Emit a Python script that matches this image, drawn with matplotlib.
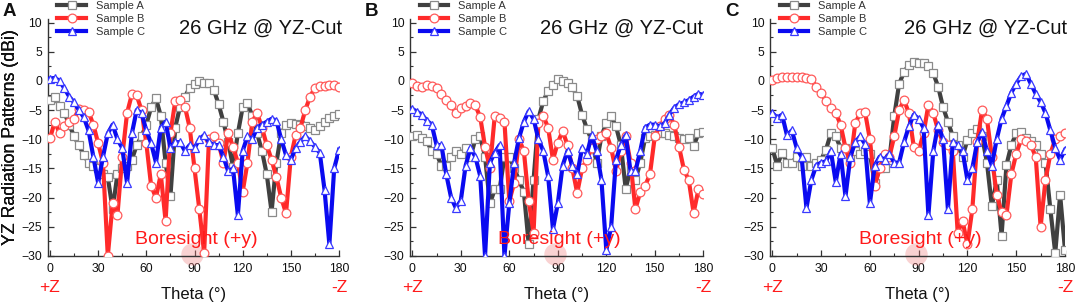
import numpy as np
import matplotlib
matplotlib.use("Agg")
import matplotlib.pyplot as plt
from matplotlib.ticker import MultipleLocator

plt.rcParams['font.family'] = ['Liberation Sans', 'DejaVu Sans']

theta = list(range(0, 181, 3))
series_names = ["Sample A", "Sample B", "Sample C"]
panel_letters = ["A", "B", "C"]

# Panel A
pA_sampleA = [-3.3, -2.8, -4.3, -5.5, -7.5, -9.5, -11, -12.7, -14, -14.5,
              -15, -16, -16.5, -22, -16, -15, -14.5, -13.5, -11, -9.5,
              -7.5, -4.5, -3, -6, -14, -19.8, -8, -4.4, -2.7, -1.2,
              -0.5, -0.1, -0.4, -0.4, -1.5, -4, -7, -10.5, -14.7, -9,
              -4.5, -3.8, -6, -9, -12, -16, -22.4, -14, -9, -7.6,
              -7.3, -7.4, -7.6, -7.8, -8.1, -8.5, -7.8, -7, -6.4, -6,
              -5.7]
pA_sampleB = [-9.8, -7, -9, -7.8, -7, -6.5, -4.8, -5, -5.3, -7.5,
              -10.7, -14, -30, -21, -23, -13, -5.5, -2.3, -2.5, -5,
              -10.7, -18, -20, -16, -24, -9, -3.5, -3.3, -4.4, -8,
              -15, -22, -29.5, -10, -9.5, -10.7, -14, -9, -11.3, -14,
              -19, -14, -7, -5.5, -8, -11, -13.5, -16.5, -20, -22.7,
              -13, -9.3, -8, -5, -2.7, -1.2, -0.9, -0.9, -0.7, -0.7,
              -1.1]
pA_sampleC = [0.4, 0.5, 0, -1.3, -2.7, -3.7, -5, -6.2, -8.5, -13,
              -17.5, -13, -9, -7.5, -10, -11.5, -17.5, -9, -5, -5.5,
              -8.5, -10.7, -14, -8, -7, -11.5, -10.5, -10.5, -12, -11,
              -11.5, -10, -9.3, -10.5, -11, -11, -13, -15.5, -15, -23,
              -12, -9.5, -10, -8, -7.5, -7, -6.5, -6.8, -10, -12.7,
              -13.5, -11.5, -10.4, -9.5, -10.3, -11.3, -12.3, -18.7, -28, -15,
              -11.8]

# Panel B
pB_sampleA = [-9.5, -9.3, -9.8, -10.3, -12, -12.5, -14.5, -14.5, -13, -12,
              -12.5, -11.5, -13, -10, -9.5, -13, -21, -18.6, -18.6, -13,
              -13, -15, -17, -19, -28, -17, -6.5, -3.5, -1.7, -0.7,
              0.3, 0, -0.3, -1.1, -2.6, -5.8, -8.2, -10.2, -14, -9.5,
              -7.2, -6.1, -7.8, -11, -18.5, -15, -17, -14, -9.8, -9.5,
              -9.3, -9, -9, -9.3, -9.5, -9.8, -10, -9.8, -11.2, -9,
              -8.8]
pB_sampleB = [-0.4, -0.9, -1, -0.7, -0.8, -1.2, -2.3, -3.3, -4.2, -5.5,
              -4.6, -4.3, -3.8, -4.2, -6.2, -11.3, -15, -6, -6.4, -7,
              -20.6, -17.5, -10, -12, -20.6, -26, -7.2, -6, -8, -13.5,
              -10.6, -8.6, -11, -15, -19.2, -15, -13.5, -11.5, -10, -9.5,
              -9, -11.5, -15.5, -12, -9.5, -14, -22, -19, -18, -16,
              -9.5, -7.8, -6.6, -5.8, -7.5, -11.3, -15.2, -17, -22.6, -18.6,
              -19.4]
pB_sampleC = [-4.8, -5.3, -5.8, -6.8, -7.5, -11, -11, -16, -20, -21.8,
              -20.5, -14.5, -11.5, -13, -16.3, -30, -14, -12.3, -11, -30,
              -21, -14, -9.8, -7, -5.2, -6.5, -10, -12, -16.3, -25.4,
              -21, -14.5, -12, -14.5, -16, -11.5, -12.5, -9.3, -12, -17,
              -29, -25, -13.5, -11, -9.3, -15.5, -15.5, -12, -8, -7.5,
              -7.5, -7.8, -7.3, -5.8, -4.6, -4, -3.7, -3.3, -2.7, -2.2,
              -2.4]

# Panel C
pC_sampleA = [-11.5, -14.5, -12.3, -14, -14, -13, -14.5, -13, -14.5, -14,
              -13.5, -11.8, -9, -9.5, -11.5, -11.5, -13, -12, -12.5, -12,
              -12.5, -17.5, -15, -15, -13.5, -6, -0.5, 1.5, 2.8, 3.3,
              3.1, 3, 2.5, 1.3, -1, -4.5, -7, -9.5, -11, -13,
              -10.1, -9, -8.3, -9.5, -14, -21.5, -17, -26.5, -14.4, -11,
              -9, -8.8, -9.8, -10.3, -11, -12.5, -14, -22, -29.5, -19.5,
              -29]
pC_sampleB = [0.2, 0.5, 0.6, 0.6, 0.6, 0.7, 0.6, 0.5, 0.3, -1,
              -2, -3.5, -4.7, -5.5, -7.5, -11.5, -14, -7.3, -5.5, -5.3,
              -10, -18, -15, -12.5, -13, -9.5, -5, -3.3, -5.5, -11.3,
              -12, -9, -4.1, -5.5, -8.5, -10.5, -11, -12, -26, -24,
              -28, -22, -10.5, -5, -6.5, -13, -19.5, -22.5, -23, -16,
              -12.5, -10, -10.3, -11, -13, -25, -17, -12.5, -10, -9.5,
              -9]
pC_sampleC = [-5.5, -6.3, -5.8, -9.3, -8.5, -11.5, -13, -21.8, -17, -14.5,
              -14, -13.8, -12, -17.3, -12.5, -19.8, -13, -10.5, -9.5, -10.8,
              -21, -14.5, -13, -13.5, -12.5, -14, -14, -10.5, -7.8, -5.8,
              -6.5, -8, -23, -12, -7.5, -10, -22, -10.5, -11, -12,
              -17, -15, -10.5, -8.7, -12, -14.5, -10, -6.5, -4.3, -2,
              -0.5, 0.8, 1.2, -0.5, -2.2, -3.6, -5.5, -8.5, -11.5, -13.5,
              -11.8]

panels = [
    [pA_sampleA, pA_sampleB, pA_sampleC],
    [pB_sampleA, pB_sampleB, pB_sampleC],
    [pC_sampleA, pC_sampleB, pC_sampleC],
]

styles = [
    dict(color='#404040', marker='s', mec='#8a8a8a'),
    dict(color='#ff2a2a', marker='o', mec='#ff5a5a'),
    dict(color='#0a0af0', marker='^', mec='#3a3aff'),
]

W, H = 1079, 304
fig = plt.figure(figsize=(W / 100, H / 100), dpi=100)

# axes geometry in pixels: (left spine x, x of theta=180)
geom = [(47.7, 339.0), (410.0, 703.3), (770.0, 1065.0)]
zero_px = [50.0, 412.3, 772.3]
title_right = [342.0, 703.0, 1067.0]
top_px, bot_px = 19.0, 256.0

for i, (lpx, rpx) in enumerate(geom):
    ax = fig.add_axes([lpx / W, 1 - bot_px / H, (rpx - lpx) / W, (bot_px - top_px) / H])
    ppd = (rpx - zero_px[i]) / 180.0
    xmin = -(zero_px[i] - lpx) / ppd
    ax.set_xlim(xmin, 180)
    ax.set_ylim(-30, 10.6)
    handles = []
    for k, (vals, st) in enumerate(zip(panels[i], styles)):
        ln, = ax.plot(theta, vals, color=st['color'], lw=3.0, marker=st['marker'],
                      ms=6.3, mfc='white', mec=st['mec'], mew=0.9, zorder=3 + k,
                      solid_joinstyle='round')
        handles.append(ln)
    # boresight marker
    ax.scatter([88.5], [-29.7], s=260, color='#f08080', alpha=0.35, lw=0,
               clip_on=False, zorder=2)
    ax.text(91, -27.1, "Boresight (+y)", color='#ff1a1a', fontsize=14,
            ha='center', va='center', zorder=10)
    ax.text((title_right[i] - lpx) / (rpx - lpx), (bot_px - 28) / (bot_px - top_px),
            "26 GHz @ YZ-Cut", transform=ax.transAxes, fontsize=14.5,
            ha='right', va='center', color='#111111')
    for side in ['top', 'right']:
        ax.spines[side].set_visible(False)
    for side in ['left', 'bottom']:
        ax.spines[side].set_linewidth(1.0)
        ax.spines[side].set_color('#333333')
    ax.xaxis.set_major_locator(MultipleLocator(30))
    ax.xaxis.set_minor_locator(MultipleLocator(15))
    ax.yaxis.set_major_locator(MultipleLocator(5))
    ax.yaxis.set_minor_locator(MultipleLocator(2.5))
    ax.tick_params(which='both', direction='in', colors='#333333', labelcolor='#111111',
                   labelsize=8.8)
    ax.tick_params(which='major', length=4, width=0.9)
    ax.tick_params(which='minor', length=2.2, width=0.8)
    ax.tick_params(axis='x', pad=5)
    ax.tick_params(axis='y', pad=4)
    ax.set_xlabel("Theta (°)", fontsize=12, labelpad=9, color='#111111')
    ax.set_ylabel("YZ Radiation Patterns (dBi)", fontsize=12.8, color='#111111')
    ax.yaxis.set_label_coords(-(lpx - 19.5) / (rpx - lpx), 0.5)
    ax.annotate("+Z", xy=(0, -0.131), xycoords=('data', 'axes fraction'),
                ha='center', va='center', color='#ff1a1a', fontsize=12.5)
    ax.annotate("-Z", xy=(180, -0.131), xycoords=('data', 'axes fraction'),
                ha='center', va='center', color='#ff1a1a', fontsize=12.5)
    leg = ax.legend(handles, series_names, loc='upper left',
                    bbox_to_anchor=((lpx + 9) / W, 1.0), bbox_transform=fig.transFigure,
                    frameon=False, fontsize=8, handlelength=2.6, handletextpad=0.9,
                    labelspacing=0.28, borderpad=0.05, borderaxespad=0, numpoints=1)
    for t in leg.get_texts():
        t.set_color('#333333')
    fig.text((lpx - 38.5) / W, 1 - 12 / H, panel_letters[i], fontsize=13.5,
             fontweight='bold', ha='center', va='center', color='#111111')

fig.savefig("out.png", dpi=100)
